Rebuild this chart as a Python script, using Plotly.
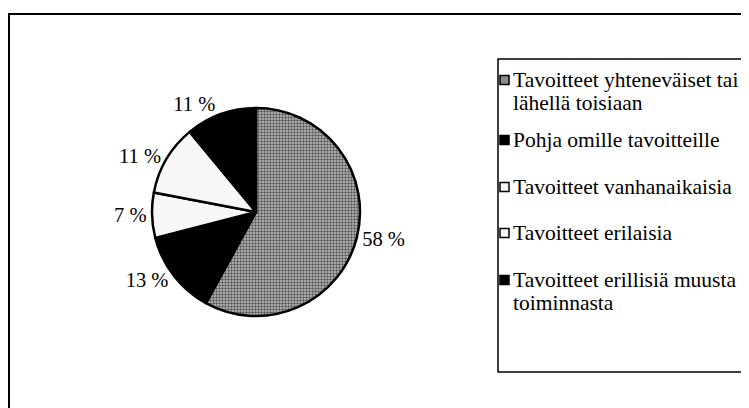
import plotly.graph_objects as go

# The page has the browser's default 8px body margin; size the figure to fit.
OX, OY = 8, 8
FW, FH = 741, 400
FONT = "Liberation Serif, Times New Roman, serif"

labels = [
    "Tavoitteet yhteneväiset tai<br>lähellä toisiaan",
    "Pohja omille tavoitteille",
    "Tavoitteet vanhanaikaisia",
    "Tavoitteet erilaisia",
    "Tavoitteet erillisiä muusta<br>toiminnasta",
]
values = [58, 13, 7, 11, 11]
colors = ["#8c8c8c", "#000000", "#f7f7f7", "#f7f7f7", "#000000"]
patterns = [".", "", "", "", ""]

# layout constants (screen pixels of the 749x408 page)
legend_line_y = [80, 140, 187, 233, 280]
legend_line_gap = 23
legend_text_x = 511
swatch_x0, swatch_x1, swatch_half = 500, 509, 4.5
cx, cy, r = 256, 212, 104


def px(x):
    return (x - OX) / FW


def py(y):
    return 1 - (y - OY) / FH


fig = go.Figure()
fig.add_trace(go.Pie(
    labels=labels,
    values=values,
    sort=False,
    direction="clockwise",
    rotation=0,
    marker=dict(
        colors=colors,
        line=dict(color="#000000", width=2.5),
        pattern=dict(shape=patterns, fgcolor="#555555", bgcolor="#c2c2c2",
                     size=3, solidity=0.5, fillmode="replace"),
    ),
    texttemplate="%{value} %",
    textposition="outside",
    textfont=dict(family=FONT, size=20.5, color="#000000"),
    domain=dict(x=[px(cx - r), px(cx + r)], y=[py(cy + r), py(cy - r)]),
    hoverinfo="label+percent",
    showlegend=False,
))

shapes = [
    dict(type="rect", xref="paper", yref="paper",
         x0=px(9), y0=py(14), x1=px(780), y1=py(440),
         line=dict(color="#000000", width=2), fillcolor="rgba(0,0,0,0)"),
    dict(type="rect", xref="paper", yref="paper",
         x0=px(498), y0=py(59), x1=px(780), y1=py(372),
         line=dict(color="#000000", width=1.5), fillcolor="rgba(0,0,0,0)"),
]
annotations = []
for lab, col, ly in zip(labels, colors, legend_line_y):
    shapes.append(dict(
        type="rect", xref="paper", yref="paper",
        x0=px(swatch_x0), x1=px(swatch_x1),
        y0=py(ly - swatch_half), y1=py(ly + swatch_half),
        line=dict(color="#000000", width=1.5), fillcolor=col,
    ))
    for k, line in enumerate(lab.split("<br>")):
        annotations.append(dict(
            xref="paper", yref="paper",
            x=px(legend_text_x), y=py(ly + k * legend_line_gap),
            xanchor="left", yanchor="middle",
            text=line, showarrow=False,
            font=dict(family=FONT, size=21.5, color="#000000"),
        ))

fig.update_layout(
    width=FW, height=FH,
    margin=dict(l=0, r=0, t=0, b=0, autoexpand=False),
    font=dict(family=FONT, color="#000000"),
    paper_bgcolor="#ffffff",
    plot_bgcolor="#ffffff",
    showlegend=False,
    shapes=shapes,
    annotations=annotations,
)

fig.write_html("out.html")
